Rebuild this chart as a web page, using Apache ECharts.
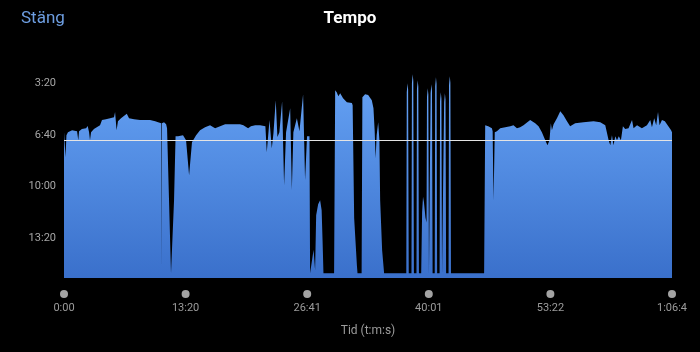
<!DOCTYPE html>
<html><head><meta charset="utf-8">
<script src="https://cdn.jsdelivr.net/npm/echarts@6/dist/echarts.min.js"></script>
<style>html,body{margin:0;padding:0;background:#000;} #c{width:700px;height:352px;}</style>
</head><body><div id="c"></div>
<script>
// elapsed time (s)
const times = [
0,10,16,26,39,53,86,94,99,118,145,156,165,171,178,197,237,250,276,303,329,336,346,355,375,413,428,461,500,566,
600,619,640,642,644,658,672,678,691,704,715,724,734,750,783,803,823,842,869,895,928,961,994,1027,1060,1093,1158,
1180,1211,1230,1257,1290,1325,1334,1352,1367,1378,1393,1404,1417,1435,1448,1461,1488,1499,1509,1532,1549,1573,1586,1599,1615,1619,
1632,1642,1652,1659,1672,1685,1695,1701,1707,1777,
1784,1794,1805,1817,1836,1861,1894,1899,1909,1927,1931,1958,
1963,1981,2001,2025,2036,2044,2050,2057,2067,2075,2080,2093,2106,
2252,2255,2260,2264,2268,
2286,2289,2294,2298,2302,
2319,2322,2327,2331,2335,
2350,2356,2362,2368,2378,2385,2388,2393,2397,2401,
2409,2412,2417,2421,2425,
2439,2442,2447,2451,2455,
2471,2474,2479,2483,2487,
2498,2501,2506,2510,2514,
2530,2533,2538,2542,2546,
2764,2771,2791,2815,2820,2826,2834,2848,2870,2903,2936,2957,2980,3001,3023,3034,3067,3100,3122,3144,
3166,3181,3194,3203,3210,3221,3243,3265,3286,3309,3319,3330,3363,3418,3484,3528,3561,3583,3594,3605,
3615,3627,3638,3650,3664,3677,3692,3714,3737,3747,3770,3802,3835,3857,3868,3883,3896,3908,3918,3934,
3953,3976,3994,4000
];
// pace (s per km)
const paces = [
388,486,401,389,385,381,385,420,385,377,374,365,389,420,389,377,362,342,339,335,331,311,381,346,335,317,335,339,342,342,
346,350,354,920,354,350,358,374,653,937,937,653,405,405,401,420,556,428,401,381,370,362,374,366,358,358,358,
362,374,366,362,362,366,467,342,451,393,265,408,389,269,595,389,296,614,389,335,385,242,575,405,405,937,
937,845,925,711,669,653,692,808,937,937,
226,234,249,238,257,273,276,284,723,906,937,937,
253,242,245,265,296,385,490,401,350,420,653,847,937,
937,234,199,224,937,
937,199,164,189,937,
937,222,187,212,937,
937,700,640,660,720,740,253,218,243,937,
937,238,203,228,937,
937,211,176,201,937,
937,269,234,259,937,
937,273,238,263,937,
937,207,172,197,937,
937,362,366,374,385,653,389,385,374,370,366,362,374,370,362,358,342,354,366,389,
420,440,420,354,381,358,335,308,323,346,346,366,354,350,346,350,362,420,440,401,
440,405,420,405,420,366,377,374,342,374,362,374,362,342,370,335,362,311,362,342,
346,366,381,389
];
const avgPace = 419;
const yTickValues = [200, 400, 600, 800];
const yTickLabels = ['3:20', '6:40', '10:00', '13:20'];
const xTickLabels = ['0:00', '13:20', '26:41', '40:01', '53:22', '1:06:4'];
const xTickStep = 800;

const data = times.map((t, i) => [t, paces[i]]);
const font = 'Roboto, "Noto Sans", sans-serif';
const chart = echarts.init(document.getElementById('c'), null, {renderer: 'canvas'});
chart.setOption({
  backgroundColor: '#000',
  animation: false,
  title: [
    {text: 'Tempo', left: 'center', top: 5, textStyle: {color: '#ffffff', fontSize: 17, fontWeight: 'bold', fontFamily: font}},
    {text: 'Stäng', left: 16, top: 5, textStyle: {color: '#6d9de0', fontSize: 17, fontWeight: 'normal', fontFamily: font}}
  ],
  grid: {left: 64, right: 28, top: 32, bottom: 74},
  xAxis: {
    type: 'value', min: 0, max: 4000, interval: xTickStep,
    name: 'Tid (t:m:s)', nameLocation: 'middle', nameGap: 47,
    nameTextStyle: {color: '#9c9c9c', fontSize: 12, fontFamily: font},
    axisLine: {show: false}, axisTick: {show: false}, splitLine: {show: false},
    axisLabel: {
      margin: 12, showMinLabel: true, showMaxLabel: true, hideOverlap: false,
      formatter: v => '{d| }\n{t|' + xTickLabels[Math.round(v / xTickStep)] + '}',
      rich: {
        d: {width: 8, height: 8, lineHeight: 8, borderRadius: 4, backgroundColor: '#a3a3a3', fontSize: 1},
        t: {color: '#9c9c9c', fontSize: 11, fontFamily: font, lineHeight: 21}
      }
    }
  },
  yAxis: {
    type: 'value', inverse: true, min: 0, max: 955, interval: 200,
    axisLine: {show: false}, axisTick: {show: false}, splitLine: {show: false},
    axisLabel: {
      margin: 8, color: '#a6a6a6', fontSize: 11, fontFamily: font,
      formatter: v => { const i = yTickValues.indexOf(v); return i >= 0 ? yTickLabels[i] : ''; }
    }
  },
  series: [{
    type: 'line', data: data, showSymbol: false, symbol: 'none', sampling: null,
    lineStyle: {width: 0, opacity: 0},
    areaStyle: {
      origin: 'end', opacity: 1,
      color: new echarts.graphic.LinearGradient(0, 0, 0, 1, [
        {offset: 0, color: '#66a3f5'},
        {offset: 1, color: '#3a70cb'}
      ])
    },
    markLine: {
      silent: true, symbol: 'none', label: {show: false},
      lineStyle: {color: '#e4e4e4', width: 1, type: 'solid'},
      data: [{yAxis: avgPace}]
    }
  }]
});
</script></body></html>
